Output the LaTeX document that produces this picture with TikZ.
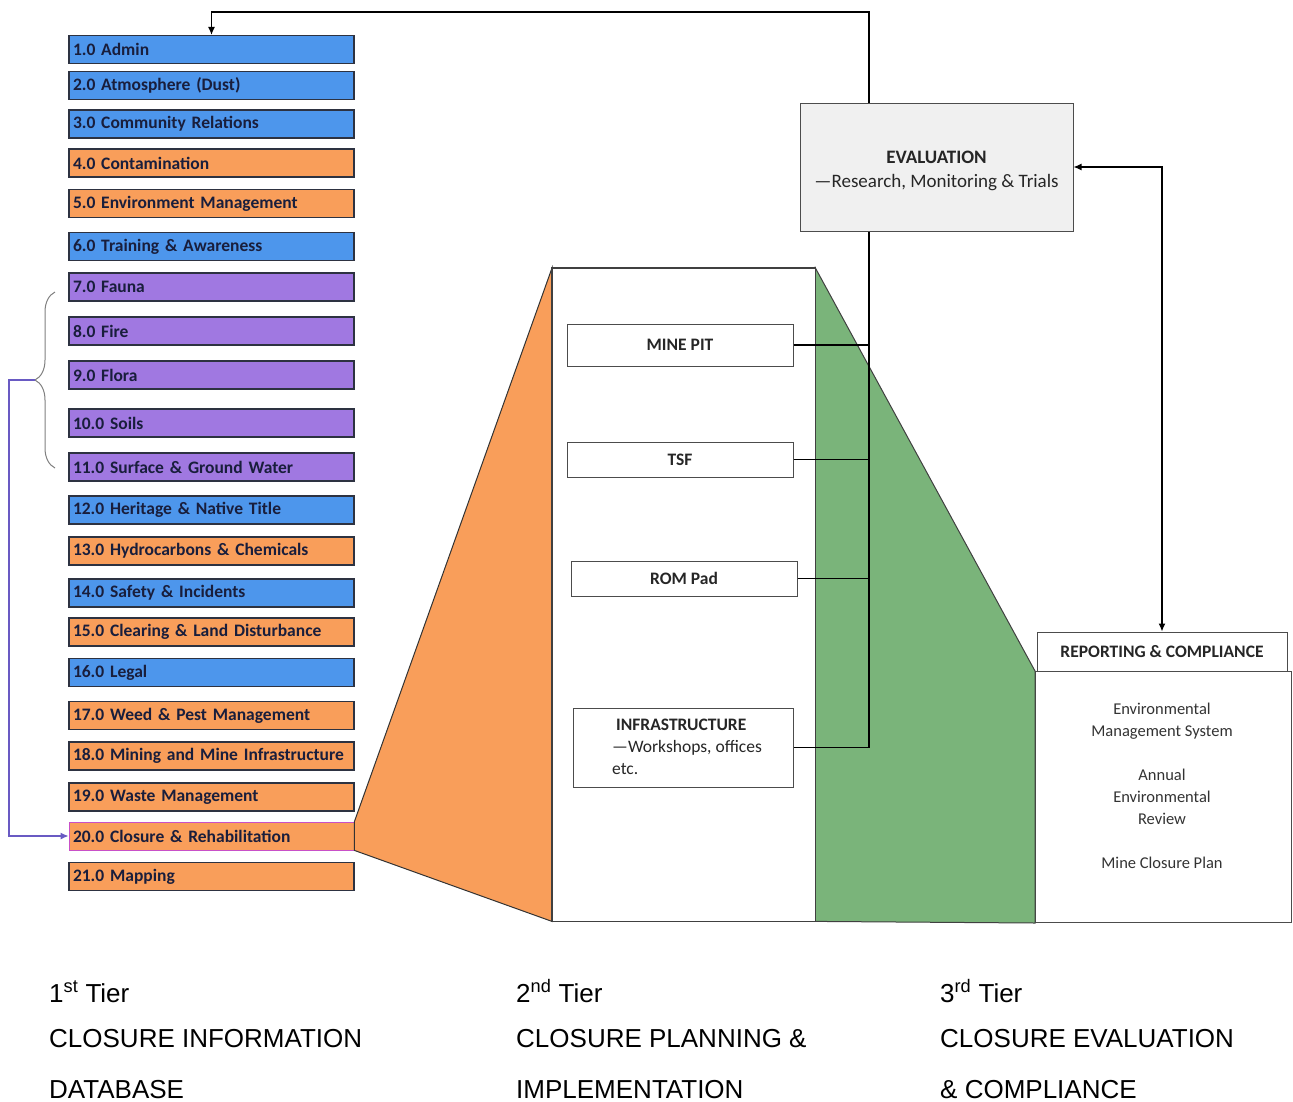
\documentclass[tikz,border=0pt]{standalone}
\usepackage{fontspec}
\setmainfont{Carlito}
\newfontfamily\tierfont{Liberation Sans}
\usetikzlibrary{arrows.meta,decorations.pathreplacing,calc}
\definecolor{cblue}{RGB}{77,150,236}
\definecolor{corange}{RGB}{249,158,90}
\definecolor{cpurple}{RGB}{160,120,225}
\definecolor{cgreen}{RGB}{122,180,122}
\definecolor{ctext}{RGB}{25,30,60}
\definecolor{cborder}{RGB}{45,50,65}
\definecolor{clink}{RGB}{105,90,195}
\definecolor{cpink}{RGB}{200,80,200}
\definecolor{cevalfill}{RGB}{240,240,240}
\tikzset{
  listbox/.style={draw=cborder, line width=1.2pt, minimum height=28pt,
    text width=277pt, inner xsep=4pt, inner ysep=0pt, align=left,
    text=ctext, font=\fontsize{17.5}{20}\selectfont\bfseries},
  midbox/.style={draw=black!70, line width=1pt, fill=white, inner sep=0pt,
    font=\fontsize{17.5}{22}\selectfont\bfseries, text=black!85},
  conn/.style={draw=black, line width=1.3pt},
  tip/.style={-{Latex[length=8pt,width=7pt]}},
  tiertext/.style={anchor=base west, inner sep=0pt, font=\tierfont\fontsize{26}{30}\selectfont}
}
\begin{document}
\begin{tikzpicture}[x=1pt,y=-1pt]
\useasboundingbox (0,0) rectangle (1293,1101);
\fill[white] (0,0) rectangle (1293,1101);

% ---- tier 1 list
\node[listbox, fill=cblue]   (b1)  at (211.5,49.5) {1.0 Admin};
\node[listbox, fill=cblue]   (b2)  at (211.5,85.5) {2.0 Atmosphere (Dust)};
\node[listbox, fill=cblue]   (b3)  at (211.5,124) {3.0 Community Relations};
\node[listbox, fill=corange] (b4)  at (211.5,163) {4.0 Contamination};
\node[listbox, fill=corange] (b5)  at (211.5,203.5) {5.0 Environment Management};
\node[listbox, fill=cblue]   (b6)  at (211.5,246.5) {6.0 Training \& Awareness};
\node[listbox, fill=cpurple] (b7)  at (211.5,287) {7.0 Fauna};
\node[listbox, fill=cpurple] (b8)  at (211.5,331) {8.0 Fire};
\node[listbox, fill=cpurple] (b9)  at (211.5,375) {9.0 Flora};
\node[listbox, fill=cpurple] (b10) at (211.5,423) {10.0 Soils};
\node[listbox, fill=cpurple] (b11) at (211.5,467) {11.0 Surface \& Ground Water};
\node[listbox, fill=cblue]   (b12) at (211.5,510) {12.0 Heritage \& Native Title};
\node[listbox, fill=corange] (b13) at (211.5,551) {13.0 Hydrocarbons \& Chemicals};
\node[listbox, fill=cblue]   (b14) at (211.5,593) {14.0 Safety \& Incidents};
\node[listbox, fill=corange] (b15) at (211.5,632) {15.0 Clearing \& Land Disturbance};
\node[listbox, fill=cblue]   (b16) at (211.5,672.5) {16.0 Legal};
\node[listbox, fill=corange] (b17) at (211.5,715.5) {17.0 Weed \& Pest Management};
\node[listbox, fill=corange] (b18) at (211.5,756) {18.0 Mining and Mine Infrastructure};
\node[listbox, fill=corange] (b19) at (211.5,797) {19.0 Waste Management};
\node[listbox, fill=corange, draw=cpink, line width=0.8pt] (b20) at (211.5,836) {20.0 Closure \& Rehabilitation};
\node[listbox, fill=corange] (b21) at (211.5,876.5) {21.0 Mapping};

% ---- tier 2 panel and wedges
\node[draw=none, minimum width=263pt, minimum height=653pt, inner sep=0pt, anchor=north west] (panel) at (552,268) {};
\node[draw=black!70, line width=1pt, fill=white, minimum width=256pt, minimum height=251pt, inner sep=0pt, anchor=north west] (repc) at (1035,671) {};
\filldraw[fill=corange, draw=black!80, line width=1pt]
  (b20.north east) -- (panel.north west) -- (panel.south west) -- (b20.south east) -- cycle;
\filldraw[fill=cgreen, draw=black!75, line width=1pt]
  (panel.north east) -- (repc.north west) -- (repc.south west) -- (panel.south east) -- cycle;
\draw[black!75, line width=1.2pt, fill=white] (panel.north west) rectangle (panel.south east);

\node[midbox, minimum width=226pt, minimum height=42pt] (mine) at (680,345) {MINE PIT};
\node[midbox, minimum width=226pt, minimum height=35pt] (tsf) at (680,459.5) {TSF};
\node[midbox, minimum width=226pt, minimum height=35pt] (rom) at (684,578.5) {ROM Pad};
\node[midbox, minimum width=220pt, minimum height=79pt] (infra) at (683,747.5) {};
\node[anchor=north west, inner sep=0pt, align=left, text=black!85,
      font=\fontsize{17.5}{22}\selectfont] (infratxt) at (612,719)
  {\hspace*{4pt}\textbf{INFRASTRUCTURE}\\—Workshops, offices\\etc.};

% ---- tier 3
\node[draw=black!70, line width=1pt, fill=cevalfill, minimum width=273pt, minimum height=128pt] (eval) at (936.5,167) {};
\node[align=center, inner sep=0pt, text=black!85, font=\fontsize{19}{24}\selectfont] (evaltxt) at (936.5,171)
  {\textbf{EVALUATION}\\—Research, Monitoring \& Trials};
\node[draw=black!70, line width=1pt, fill=white, minimum width=250pt, minimum height=39pt,
      inner sep=0pt, text=black!85, font=\fontsize{17.5}{22}\selectfont\bfseries] (rep) at (1162,651.5)
  {REPORTING \& COMPLIANCE};
\node[align=center, inner sep=0pt, text=black!80, font=\fontsize{16.5}{22}\selectfont] (reptxt) at (1162,786)
  {Environmental\\Management System\\[22pt]Annual\\Environmental\\Review\\[22pt]Mine Closure Plan};

% ---- connectors
\coordinate (vx) at (869,0);
\coordinate (topc) at (869,12);
\draw[conn, tip] (vx |- eval.north) -- (topc) -| (b1.north);
\draw[conn] (vx |- eval.south) |- (infra.east);
\draw[conn] (mine.east) -- (mine.east -| vx);
\draw[conn] (tsf.east) -- (tsf.east -| vx);
\draw[conn] (rom.east) -- (rom.east -| vx);
\draw[conn, {Latex[length=8pt,width=7pt]}-{Latex[length=8pt,width=7pt]}] (eval.east) -| (rep.north);

% ---- brace and link to 20.0
\draw[black!50, line width=1pt, decorate, decoration={brace, amplitude=20pt}] (55,468) -- (55,292);
\coordinate (bt) at (35,380);
\draw[clink, line width=1.3pt, tip] (bt) -- (9,380) |- (b20.west);

% ---- tier captions
\node[tiertext] (t1a) at (49,1002) {1\textsuperscript{st} Tier};
\node[tiertext] (t1b) at (49,1047) {CLOSURE INFORMATION};
\node[tiertext] (t1c) at (49,1098) {DATABASE};
\node[tiertext] (t2a) at (516,1002) {2\textsuperscript{nd} Tier};
\node[tiertext] (t2b) at (516,1047) {CLOSURE PLANNING \&};
\node[tiertext] (t2c) at (516,1098) {IMPLEMENTATION};
\node[tiertext] (t3a) at (940,1002) {3\textsuperscript{rd} Tier};
\node[tiertext] (t3b) at (940,1047) {CLOSURE EVALUATION};
\node[tiertext] (t3c) at (940,1098) {\& COMPLIANCE};
\end{tikzpicture}
\end{document}
